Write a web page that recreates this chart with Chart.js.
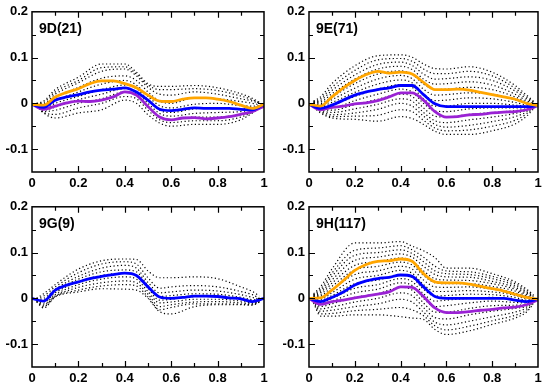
<!DOCTYPE html>
<html>
<head>
<meta charset="utf-8">
<script src="https://cdn.jsdelivr.net/npm/chart.js@4"></script>
<style>
  html, body { margin: 0; padding: 0; background: #fff; }
  #wrap { position: relative; width: 547px; height: 391px; }
  canvas { position: absolute; }
</style>
</head>
<body>
<div id="wrap">
  <canvas id="pD" style="left:0;top:0" width="273" height="195"></canvas>
  <canvas id="pE" style="left:273px;top:0" width="274" height="195"></canvas>
  <canvas id="pG" style="left:0;top:195px" width="273" height="196"></canvas>
  <canvas id="pH" style="left:273px;top:195px" width="274" height="196"></canvas>
</div>
<script>
// x positions of the mean curves and of the individual (dotted) curves
const xMain = [0,0.05,0.1,0.15,0.2,0.25,0.3,0.35,0.4,0.45,0.5,0.55,0.6,0.65,0.7,0.75,0.8,0.85,0.9,0.95,1];
const xDot  = [0.02,0.05,0.1,0.2,0.3,0.4,0.45,0.5,0.55,0.6,0.7,0.8,0.9,0.95,0.98];

const xTicks = [0,0.2,0.4,0.6,0.8,1];
const xTickLabels = ["0","0.2","0.4","0.6","0.8","1"];
const yTicks = [-0.1,0,0.1,0.2];
const yTickLabels = ["-0.1","0","0.1","0.2"];

// 9D(21)
const orangeD = [-0.002,-0.004,0.014,0.024,0.032,0.043,0.049,0.049,0.043,0.034,0.018,0.005,0.004,0.009,0.012,0.012,0.009,0.004,-0.004,-0.011,-0.002];
const blueD   = [-0.002,-0.009,0.007,0.014,0.019,0.025,0.029,0.031,0.034,0.025,0.007,-0.013,-0.016,-0.013,-0.01,-0.011,-0.011,-0.011,-0.013,-0.014,-0.002];
const purpleD = [-0.002,-0.013,-0.006,0.001,0.005,0.004,0.007,0.014,0.025,0.018,-0.007,-0.03,-0.036,-0.032,-0.031,-0.034,-0.032,-0.029,-0.024,-0.018,-0.006];
const dotsD = [
  [0,0.005,0.03,0.057,0.086,0.086,0.068,0.043,0.037,0.037,0.039,0.034,0.021,0.011,0.002],
  [-0.001,0.002,0.025,0.05,0.078,0.08,0.064,0.04,0.03,0.03,0.032,0.028,0.016,0.008,0.001],
  [0,0,0.02,0.045,0.07,0.075,0.06,0.035,0.02,0.018,0.025,0.02,0.01,0.005,0],
  [-0.002,-0.005,0.012,0.035,0.055,0.06,0.05,0.025,0.005,0,0.012,0.01,0.004,0,-0.003],
  [-0.002,-0.01,0.005,0.025,0.042,0.05,0.04,0.015,-0.005,-0.01,-0.002,0,-0.005,-0.006,-0.005],
  [-0.003,-0.012,0,0.015,0.03,0.04,0.032,0.008,-0.015,-0.02,-0.012,-0.01,-0.012,-0.01,-0.006],
  [-0.003,-0.015,-0.008,0.008,0.02,0.032,0.025,0,-0.022,-0.028,-0.022,-0.02,-0.018,-0.014,-0.007],
  [-0.004,-0.018,-0.015,0,0.01,0.025,0.02,-0.008,-0.03,-0.036,-0.03,-0.03,-0.024,-0.017,-0.008],
  [-0.004,-0.02,-0.024,-0.01,0,0.015,0.01,-0.015,-0.036,-0.042,-0.038,-0.038,-0.03,-0.019,-0.009],
  [-0.005,-0.021,-0.032,-0.021,-0.014,0.007,0,-0.025,-0.043,-0.05,-0.046,-0.046,-0.036,-0.021,-0.01]
];

// 9E(71)
const orangeE = [-0.002,-0.006,0.014,0.034,0.05,0.063,0.07,0.066,0.068,0.064,0.046,0.03,0.03,0.031,0.029,0.024,0.019,0.014,0.009,0,-0.005];
const blueE   = [-0.002,-0.011,-0.004,0.007,0.018,0.025,0.03,0.034,0.039,0.039,0.019,-0.001,-0.007,-0.007,-0.007,-0.007,-0.007,-0.007,-0.007,-0.007,-0.005];
const purpleE = [-0.002,-0.014,-0.009,-0.006,-0.001,0.001,0.006,0.014,0.023,0.023,0.007,-0.018,-0.03,-0.029,-0.025,-0.024,-0.021,-0.019,-0.018,-0.014,-0.005];
const dotsE = [
  [0.005,0.014,0.043,0.082,0.104,0.106,0.101,0.086,0.076,0.075,0.08,0.068,0.039,0.018,0.005],
  [0.004,0.01,0.035,0.072,0.095,0.098,0.092,0.075,0.065,0.065,0.07,0.06,0.033,0.014,0.003],
  [0.003,0.006,0.028,0.062,0.085,0.09,0.083,0.064,0.053,0.054,0.058,0.05,0.027,0.01,0.002],
  [0.002,0.003,0.021,0.053,0.075,0.081,0.074,0.053,0.042,0.043,0.047,0.04,0.02,0.006,0],
  [0.001,0,0.014,0.043,0.064,0.071,0.064,0.042,0.03,0.031,0.035,0.03,0.014,0.003,-0.001],
  [0,-0.003,0.008,0.033,0.053,0.061,0.054,0.031,0.018,0.019,0.023,0.02,0.008,0,-0.002],
  [0,-0.006,0.002,0.024,0.042,0.051,0.045,0.02,0.006,0.007,0.012,0.01,0.002,-0.003,-0.003],
  [-0.001,-0.008,-0.004,0.015,0.031,0.041,0.035,0.01,-0.006,-0.006,0,0,-0.004,-0.006,-0.004],
  [-0.002,-0.01,-0.01,0.006,0.02,0.031,0.025,0,-0.017,-0.018,-0.012,-0.01,-0.01,-0.009,-0.005],
  [-0.003,-0.012,-0.015,-0.003,0.009,0.02,0.015,-0.01,-0.028,-0.03,-0.024,-0.02,-0.016,-0.012,-0.006],
  [-0.004,-0.014,-0.02,-0.012,-0.002,0.01,0.005,-0.02,-0.038,-0.042,-0.036,-0.03,-0.022,-0.015,-0.007],
  [-0.005,-0.016,-0.025,-0.021,-0.013,0,-0.006,-0.028,-0.046,-0.052,-0.048,-0.04,-0.029,-0.019,-0.009],
  [-0.006,-0.018,-0.029,-0.028,-0.026,-0.014,-0.018,-0.037,-0.054,-0.06,-0.058,-0.05,-0.037,-0.023,-0.01],
  [-0.008,-0.021,-0.032,-0.035,-0.039,-0.029,-0.033,-0.046,-0.061,-0.068,-0.068,-0.06,-0.045,-0.028,-0.012]
];

// 9G(9)
const blueG = [0,-0.006,0.018,0.029,0.036,0.043,0.048,0.052,0.055,0.05,0.025,0.003,0,0.002,0.005,0.005,0.004,0.001,-0.001,-0.007,0];
const dotsG = [
  [0,0.01,0.03,0.064,0.082,0.086,0.085,0.06,0.045,0.045,0.047,0.043,0.025,0.015,0.005],
  [0,0.005,0.025,0.056,0.075,0.08,0.075,0.045,0.022,0.025,0.028,0.025,0.015,0.008,0],
  [-0.002,0,0.02,0.048,0.066,0.072,0.066,0.035,0.012,0.014,0.018,0.016,0.008,0.002,-0.002],
  [-0.003,-0.004,0.016,0.042,0.058,0.062,0.058,0.028,0.004,0.006,0.01,0.009,0.002,-0.003,-0.004],
  [-0.004,-0.008,0.012,0.036,0.05,0.055,0.05,0.022,-0.004,-0.002,0.004,0.004,-0.002,-0.007,-0.005],
  [-0.005,-0.012,0.008,0.03,0.042,0.047,0.042,0.015,-0.01,-0.008,-0.002,-0.002,-0.006,-0.01,-0.006],
  [-0.006,-0.015,0.005,0.024,0.034,0.038,0.034,0.009,-0.018,-0.014,-0.008,-0.007,-0.01,-0.012,-0.007],
  [-0.007,-0.018,0.004,0.018,0.027,0.03,0.027,0.003,-0.025,-0.02,-0.012,-0.012,-0.013,-0.014,-0.008],
  [-0.008,-0.021,0.003,0.014,0.021,0.02,0.018,0,-0.029,-0.034,-0.018,-0.014,-0.014,-0.015,-0.008]
];

// 9H(117)
const orangeH = [0,0.001,0.018,0.039,0.061,0.074,0.081,0.082,0.086,0.081,0.054,0.036,0.034,0.034,0.031,0.026,0.021,0.016,0.009,0.002,-0.002];
const blueH   = [0,-0.007,0.002,0.014,0.029,0.038,0.043,0.046,0.051,0.048,0.025,0.004,0,0,0,0,0,0,-0.004,-0.007,-0.002];
const purpleH = [0,-0.013,-0.007,-0.004,0.001,0.005,0.009,0.014,0.025,0.024,0.004,-0.021,-0.031,-0.031,-0.029,-0.026,-0.024,-0.021,-0.019,-0.014,-0.003];
const dotsH = [
  [0.01,0.025,0.064,0.121,0.121,0.124,0.114,0.104,0.089,0.066,0.066,0.054,0.036,0.02,0.008],
  [0.008,0.02,0.055,0.105,0.11,0.115,0.106,0.09,0.07,0.06,0.058,0.048,0.032,0.017,0.006],
  [0.007,0.016,0.048,0.094,0.1,0.106,0.098,0.08,0.06,0.054,0.052,0.043,0.028,0.014,0.005],
  [0.006,0.012,0.04,0.083,0.09,0.097,0.09,0.07,0.052,0.047,0.046,0.037,0.024,0.011,0.004],
  [0.005,0.008,0.033,0.072,0.08,0.088,0.082,0.06,0.043,0.04,0.039,0.032,0.02,0.008,0.003],
  [0.004,0.005,0.026,0.062,0.07,0.079,0.073,0.05,0.034,0.032,0.032,0.026,0.016,0.005,0.002],
  [0.003,0.002,0.019,0.052,0.06,0.07,0.064,0.04,0.025,0.024,0.025,0.02,0.012,0.002,0.001],
  [0.002,-0.002,0.012,0.042,0.05,0.061,0.055,0.03,0.015,0.015,0.017,0.014,0.007,-0.001,0],
  [0,-0.006,0.006,0.032,0.04,0.052,0.046,0.02,0.005,0.006,0.009,0.008,0.002,-0.004,-0.002],
  [-0.001,-0.01,0,0.022,0.03,0.043,0.037,0.01,-0.006,-0.004,0,0.002,-0.003,-0.007,-0.003],
  [-0.002,-0.014,-0.006,0.012,0.02,0.034,0.028,0,-0.018,-0.016,-0.01,-0.006,-0.009,-0.01,-0.004],
  [-0.003,-0.018,-0.012,0.002,0.01,0.024,0.018,-0.01,-0.03,-0.03,-0.022,-0.016,-0.015,-0.013,-0.005],
  [-0.004,-0.023,-0.019,-0.008,0,0.012,0.006,-0.02,-0.042,-0.045,-0.036,-0.028,-0.022,-0.017,-0.007],
  [-0.006,-0.028,-0.026,-0.018,-0.012,-0.002,-0.008,-0.03,-0.052,-0.058,-0.05,-0.04,-0.03,-0.021,-0.009],
  [-0.008,-0.034,-0.033,-0.027,-0.024,-0.02,-0.025,-0.038,-0.06,-0.069,-0.061,-0.049,-0.037,-0.026,-0.01],
  [-0.01,-0.039,-0.039,-0.036,-0.036,-0.04,-0.043,-0.046,-0.068,-0.079,-0.071,-0.057,-0.043,-0.03,-0.012]
];

const ORANGE = "#ffa500", BLUE = "#0000ff", PURPLE = "#9a22d4";
const FONT = "'Liberation Sans', Arial, sans-serif";

// box, inward ticks and panel label
const framePlugin = {
  id: "frame",
  afterDatasetsDraw(chart, args, opts) {
    const { ctx, chartArea: a, scales: { x, y } } = chart;
    ctx.save();
    ctx.strokeStyle = "#000";
    ctx.lineWidth = 1.5;
    ctx.strokeRect(a.left, a.top, a.right - a.left, a.bottom - a.top);
    ctx.lineWidth = 1.2;
    ctx.beginPath();
    const xt = (v, len) => {
      const p = Math.round(x.getPixelForValue(v)) + 0.5;
      ctx.moveTo(p, a.bottom); ctx.lineTo(p, a.bottom - len);
      ctx.moveTo(p, a.top); ctx.lineTo(p, a.top + len);
    };
    const yt = (v, len) => {
      const p = Math.round(y.getPixelForValue(v)) + 0.5;
      ctx.moveTo(a.left, p); ctx.lineTo(a.left + len, p);
      ctx.moveTo(a.right, p); ctx.lineTo(a.right - len, p);
    };
    [0.2,0.4,0.6,0.8].forEach(v => xt(v, 6));
    [0.1,0.3,0.5,0.7,0.9].forEach(v => xt(v, 4));
    [-0.1,0,0.1].forEach(v => yt(v, 6));
    [-0.05,0.05,0.15].forEach(v => yt(v, 4));
    ctx.stroke();
    ctx.fillStyle = "#000";
    ctx.font = "bold 14px " + FONT;
    ctx.textBaseline = "alphabetic";
    ctx.fillText(opts.label, a.left + 7, a.top + 21);
    ctx.restore();
  }
};

function line(xs, ys, color) {
  return {
    data: xs.map((v, i) => ({ x: v, y: ys[i] })),
    borderColor: color, borderWidth: 2.8, pointRadius: 0,
    cubicInterpolationMode: "monotone", order: 0
  };
}
function dotted(ys) {
  return {
    data: xDot.map((v, i) => ({ x: v, y: ys[i] })),
    borderColor: "#000", borderWidth: 1.2, borderDash: [1.2, 2.5], pointRadius: 0,
    cubicInterpolationMode: "monotone", order: 10
  };
}

function panel(id, label, dots, mains, yw, top, xh) {
  const datasets = dots.map(dotted).concat(mains);
  new Chart(document.getElementById(id), {
    type: "line",
    data: { datasets },
    options: {
      responsive: false, animation: false,
      layout: { padding: { left: 0, top: top, right: 9, bottom: 0 } },
      plugins: { legend: { display: false }, tooltip: { enabled: false }, frame: { label } },
      scales: {
        x: {
          type: "linear", min: 0, max: 1,
          afterBuildTicks: s => { s.ticks = xTicks.map(v => ({ value: v })); },
          afterFit: s => { s.height = xh; },
          grid: { display: false, drawTicks: false }, border: { display: false },
          ticks: { color: "#000", font: { family: FONT, size: 13, weight: "bold" }, padding: 4,
                   maxRotation: 0, autoSkip: false,
                   callback: (v) => xTickLabels[xTicks.indexOf(v)] }
        },
        y: {
          type: "linear", min: -0.15, max: 0.2,
          afterBuildTicks: s => { s.ticks = yTicks.map(v => ({ value: v })); },
          afterFit: s => { s.width = yw; },
          grid: { display: false, drawTicks: false }, border: { display: false },
          ticks: { color: "#000", font: { family: FONT, size: 13, weight: "bold" }, padding: 4,
                   callback: (v) => yTickLabels[yTicks.indexOf(v)] }
        }
      }
    },
    plugins: [framePlugin]
  });
}

panel("pD", "9D(21)", dotsD, [line(xMain, orangeD, ORANGE), line(xMain, blueD, BLUE), line(xMain, purpleD, PURPLE)], 32, 11, 23);
panel("pE", "9E(71)", dotsE, [line(xMain, orangeE, ORANGE), line(xMain, blueE, BLUE), line(xMain, purpleE, PURPLE)], 36, 11, 23);
panel("pG", "9G(9)",  dotsG, [line(xMain, blueG, BLUE)], 32, 10, 24);
panel("pH", "9H(117)", dotsH, [line(xMain, orangeH, ORANGE), line(xMain, blueH, BLUE), line(xMain, purpleH, PURPLE)], 36, 10, 24);
</script>
</body>
</html>
